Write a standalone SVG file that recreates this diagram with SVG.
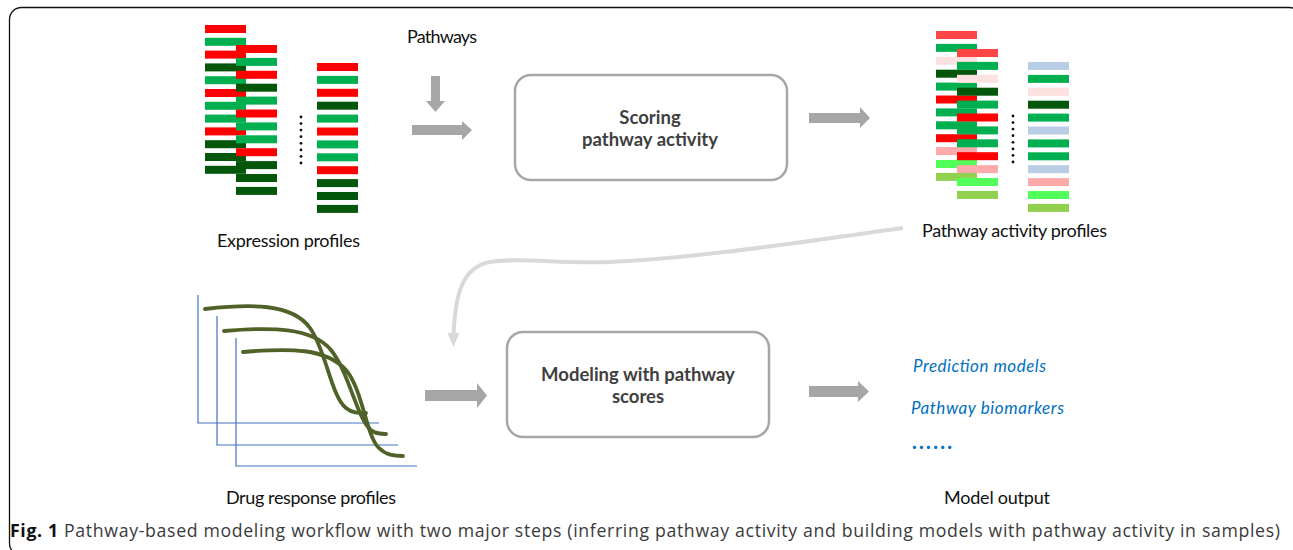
<svg xmlns="http://www.w3.org/2000/svg" width="1293" height="550" viewBox="0 0 1293 550">
  <style>
    .r { fill: #FF0000; }
    .g { fill: #00B050; }
    .d { fill: #04560A; }
    .lr { fill: #FF4646; }
    .pp { fill: #FDE0E0; }
    .sa { fill: #FFAAAA; }
    .lg { fill: #52FF5A; }
    .yg { fill: #92D050; }
    .lb { fill: #B9CDE5; }
    .dot { fill: #111111; }
    .lbl { font-family: Lato, "Liberation Sans", sans-serif; font-size: 18px; fill: #111111; }
    .box { fill: #FFFFFF; stroke: #A6A6A6; stroke-width: 2.5; }
    .boxtxt { font-family: Lato, "Liberation Sans", sans-serif; font-size: 18.5px; font-weight: bold; fill: #404040; text-anchor: middle; }
    .out { font-family: Lato, "Liberation Sans", sans-serif; font-size: 17px; font-style: italic; fill: #0070C0; }
    .fat { fill: #A6A6A6; }
    .axis { fill: none; stroke: #4472C4; stroke-width: 1.2; }
    .curve { fill: none; stroke: #4F6228; stroke-width: 3.8; stroke-linecap: round; }
    .cap { font-family: "Open Sans", "Liberation Sans", sans-serif; font-size: 17.7px; fill: #3A3A3A; }
  </style>
  <defs>
    <rect id="bar" width="41" height="8"/>
    <circle id="pt" r="1.4"/>
  </defs>

  <rect width="1293" height="550" fill="#FFFFFF"/>

  <!-- outer frame, open at the bottom and right edges -->
  <rect id="frame" x="9.5" y="7.5" width="1292" height="548" rx="12" fill="none" stroke="#111111" stroke-width="1.3"/>

  <!-- expression profiles: three sample columns of gene bars -->
  <g id="expression-profiles">
    <g transform="translate(205,25)">
      <use href="#bar" class="r" y="0"/>
      <use href="#bar" class="g" y="12.8"/>
      <use href="#bar" class="r" y="25.6"/>
      <use href="#bar" class="d" y="38.4"/>
      <use href="#bar" class="g" y="51.2"/>
      <use href="#bar" class="r" y="64"/>
      <use href="#bar" class="g" y="76.8"/>
      <use href="#bar" class="g" y="89.6"/>
      <use href="#bar" class="r" y="102.4"/>
      <use href="#bar" class="d" y="115.2"/>
      <use href="#bar" class="d" y="128"/>
      <use href="#bar" class="d" y="140.8"/>
    </g>
    <g transform="translate(236,45)">
      <use href="#bar" class="r" y="0"/>
      <use href="#bar" class="g" y="12.9"/>
      <use href="#bar" class="r" y="25.8"/>
      <use href="#bar" class="d" y="38.7"/>
      <use href="#bar" class="g" y="51.6"/>
      <use href="#bar" class="r" y="64.5"/>
      <use href="#bar" class="g" y="77.4"/>
      <use href="#bar" class="g" y="90.3"/>
      <use href="#bar" class="r" y="103.2"/>
      <use href="#bar" class="d" y="116.1"/>
      <use href="#bar" class="d" y="129"/>
      <use href="#bar" class="d" y="141.9"/>
    </g>
    <g class="dot" transform="translate(301,117)">
      <use href="#pt" y="0"/>
      <use href="#pt" y="6.6"/>
      <use href="#pt" y="13.1"/>
      <use href="#pt" y="19.7"/>
      <use href="#pt" y="26.3"/>
      <use href="#pt" y="32.9"/>
      <use href="#pt" y="39.4"/>
      <use href="#pt" y="46"/>
    </g>
    <g transform="translate(317,63)">
      <use href="#bar" class="r" y="0"/>
      <use href="#bar" class="g" y="12.9"/>
      <use href="#bar" class="r" y="25.8"/>
      <use href="#bar" class="d" y="38.7"/>
      <use href="#bar" class="g" y="51.6"/>
      <use href="#bar" class="r" y="64.5"/>
      <use href="#bar" class="g" y="77.4"/>
      <use href="#bar" class="g" y="90.3"/>
      <use href="#bar" class="r" y="103.2"/>
      <use href="#bar" class="d" y="116.1"/>
      <use href="#bar" class="d" y="129"/>
      <use href="#bar" class="d" y="141.9"/>
    </g>
    <text class="lbl" x="217" y="247" textLength="143">Expression profiles</text>
  </g>

  <g id="pathways">
    <text class="lbl" x="407" y="43" textLength="70">Pathways</text>
  </g>

  <!-- step 1 -->
  <g id="scoring">
    <rect class="box" x="515" y="75" width="272" height="105" rx="16"/>
    <text class="boxtxt" x="650" y="124">Scoring</text>
    <text class="boxtxt" x="650" y="146">pathway activity</text>
  </g>

  <!-- pathway activity profiles -->
  <g id="pathway-activity-profiles">
    <g transform="translate(936,31)">
      <use href="#bar" class="lr" y="0"/>
      <use href="#bar" class="g" y="12.9"/>
      <use href="#bar" class="pp" y="25.8"/>
      <use href="#bar" class="d" y="38.7"/>
      <use href="#bar" class="g" y="51.6"/>
      <use href="#bar" class="r" y="64.5"/>
      <use href="#bar" class="g" y="77.4"/>
      <use href="#bar" class="g" y="90.3"/>
      <use href="#bar" class="r" y="103.2"/>
      <use href="#bar" class="sa" y="116.1"/>
      <use href="#bar" class="lg" y="129"/>
      <use href="#bar" class="yg" y="141.9"/>
    </g>
    <g transform="translate(957,49)">
      <use href="#bar" class="lr" y="0"/>
      <use href="#bar" class="g" y="12.9"/>
      <use href="#bar" class="pp" y="25.8"/>
      <use href="#bar" class="d" y="38.7"/>
      <use href="#bar" class="g" y="51.6"/>
      <use href="#bar" class="r" y="64.5"/>
      <use href="#bar" class="g" y="77.4"/>
      <use href="#bar" class="g" y="90.3"/>
      <use href="#bar" class="r" y="103.2"/>
      <use href="#bar" class="sa" y="116.1"/>
      <use href="#bar" class="lg" y="129"/>
      <use href="#bar" class="yg" y="141.9"/>
    </g>
    <g class="dot" transform="translate(1013,116)">
      <use href="#pt" y="0"/>
      <use href="#pt" y="6.6"/>
      <use href="#pt" y="13.1"/>
      <use href="#pt" y="19.7"/>
      <use href="#pt" y="26.3"/>
      <use href="#pt" y="32.9"/>
      <use href="#pt" y="39.4"/>
      <use href="#pt" y="46"/>
    </g>
    <g transform="translate(1028,62)">
      <use href="#bar" class="lb" y="0"/>
      <use href="#bar" class="g" y="12.9"/>
      <use href="#bar" class="pp" y="25.8"/>
      <use href="#bar" class="d" y="38.7"/>
      <use href="#bar" class="g" y="51.6"/>
      <use href="#bar" class="lb" y="64.5"/>
      <use href="#bar" class="g" y="77.4"/>
      <use href="#bar" class="g" y="90.3"/>
      <use href="#bar" class="lb" y="103.2"/>
      <use href="#bar" class="sa" y="116.1"/>
      <use href="#bar" class="lg" y="129"/>
      <use href="#bar" class="yg" y="141.9"/>
    </g>
    <text class="lbl" x="922" y="237" textLength="185">Pathway activity profiles</text>
  </g>

  <!-- drug response curves on three offset axes -->
  <g id="drug-response-profiles">
    <path class="axis" d="M198,295 V423 H379"/>
    <path class="axis" d="M217,316 V445 H398"/>
    <path class="axis" d="M236,338 V466 H417"/>
    <path class="curve" d="M205,309 C250,304 292,303 310,328 C326,350 331,396 346,408 C352,413 358,413 366,413"/>
    <path class="curve" d="M224,331 C270,327 312,327 331,350 C350,374 357,420 372,431 C377,434 381,434 386,434"/>
    <path class="curve" d="M243,352 C290,348 326,348 346,370 C363,390 366,436 379,448 C386,455 394,456 403,456"/>
    <text class="lbl" x="226" y="504" textLength="170">Drug response profiles</text>
  </g>

  <!-- step 2 -->
  <g id="modeling">
    <rect class="box" x="507" y="332" width="262" height="105" rx="16"/>
    <text class="boxtxt" x="638" y="381">Modeling with pathway</text>
    <text class="boxtxt" x="638" y="403">scores</text>
  </g>

  <g id="model-output">
    <text class="out" x="913" y="372" textLength="133">Prediction models</text>
    <text class="out" x="911" y="414" textLength="153">Pathway biomarkers</text>
    <text class="out" x="912" y="449" textLength="40" style="font-style:normal;font-weight:900;font-size:20px">......</text>
    <text class="lbl" x="944" y="504" textLength="106">Model output</text>
  </g>

  <!-- block arrows and the feedback connector -->
  <g id="connectors">
    <polygon class="fat" points="431,76 440,76 440,101 445,101 435.5,112 426,101 431,101"/>
    <polygon class="fat" points="412,125 462,125 462,121 472,130 462,140 462,135 412,135"/>
    <polygon class="fat" points="809,113 860,113 860,107 870,118 860,128 860,123 809,123"/>
    <polygon class="fat" points="425,390 477,390 477,383 487,395.5 477,408 477,401 425,401"/>
    <polygon class="fat" points="809,386 858,386 858,381 869,391.5 858,402 858,397 809,397"/>
    <path d="M903,228 C800,242 700,258 610,262 C560,264 520,257 490,262 C462,267 455,295 453.5,336" fill="none" stroke="#D9D9D9" stroke-width="4"/>
    <polygon points="447.5,333 459.5,333 453.5,347" fill="#D9D9D9"/>
  </g>

  <g id="caption">
    <text class="cap" x="10" y="537" textLength="1270"><tspan font-weight="bold" fill="#111111">Fig. 1</tspan> Pathway-based modeling workflow with two major steps (inferring pathway activity and building models with pathway activity in samples)</text>
  </g>
</svg>
